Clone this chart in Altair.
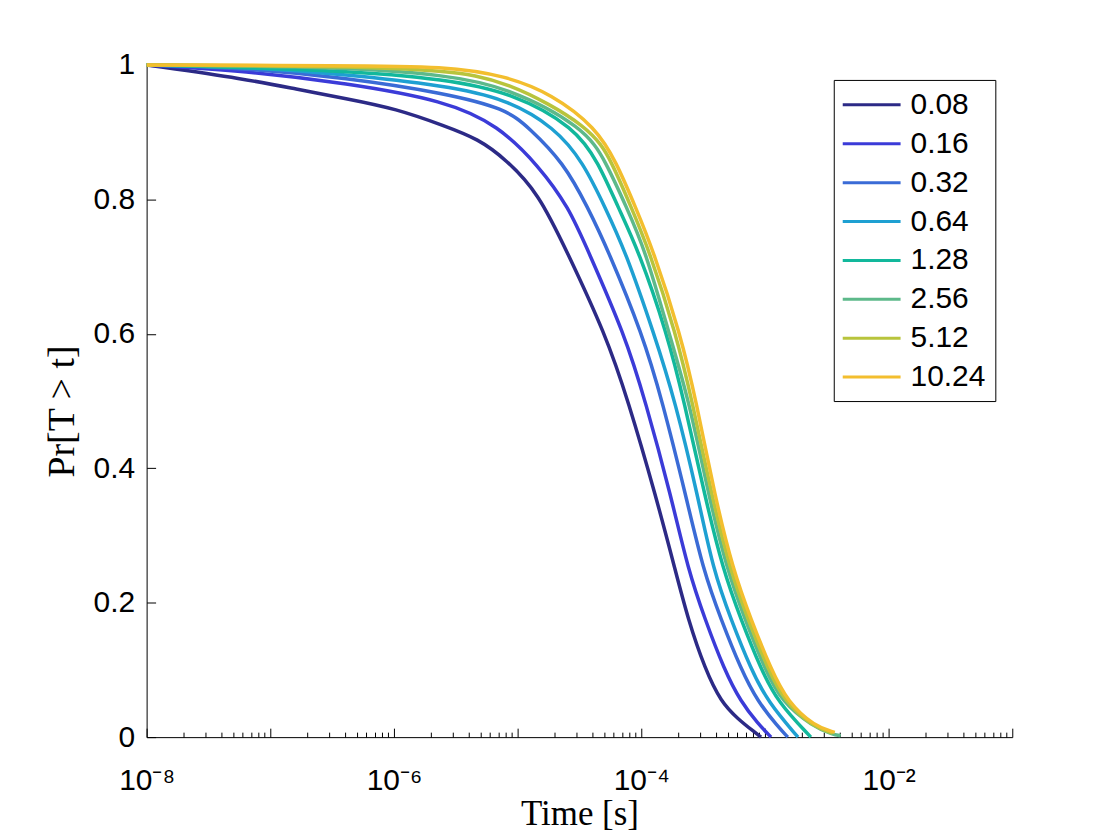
import altair as alt
import pandas as pd

SERIES = ["0.08", "0.16", "0.32", "0.64", "1.28", "2.56", "5.12", "10.24"]
COLORS = ["#2c2a86", "#3b3bd8", "#3a6bd6", "#1ea0d2", "#12b89c", "#5db98a", "#b8c43c", "#f3be2e"]

# survival curves: time [s] and Pr[T>t]
T_008 = [1.0e-8, 6.4e-8, 1.62e-7, 4.1e-7, 1.04e-6, 2.6e-6, 4.8e-6, 8.0e-6, 1.48e-5, 2.48e-5,
         5.1e-5, 7.85e-5, 1.32e-4, 1.88e-4, 2.39e-4, 3.28e-4, 4.42e-4, 6.05e-4, 8.3e-4, 9.3e-4]
P_008 = [1.0, 0.979, 0.964, 0.95, 0.935, 0.909, 0.89, 0.86, 0.809, 0.724,
         0.601, 0.5, 0.357, 0.249, 0.175, 0.101, 0.052, 0.027, 0.007, 0.0]

T_016 = [1.0e-8, 6.4e-8, 4.1e-7, 2.6e-6, 7.0e-6, 1.48e-5, 2.6e-5, 3.7e-5, 7.3e-5, 1.08e-4,
         1.75e-4, 2.39e-4, 3.28e-4, 4.67e-4, 6.4e-4, 8.8e-4, 1.12e-3]
P_016 = [1.0, 0.991, 0.973, 0.947, 0.91, 0.85, 0.788, 0.724, 0.6, 0.5,
         0.357, 0.249, 0.175, 0.101, 0.052, 0.02, 0.0]

T_032 = [1.0e-8, 6.4e-8, 4.1e-7, 2.6e-6, 8.0e-6, 1.23e-5, 2.35e-5, 3.7e-5, 5.4e-5, 1.02e-4,
         1.48e-4, 2.31e-4, 3.16e-4, 4.42e-4, 6.4e-4, 8.8e-4, 1.27e-3, 1.53e-3]
P_032 = [1.0, 0.995, 0.981, 0.958, 0.935, 0.907, 0.855, 0.788, 0.724, 0.6,
         0.5, 0.357, 0.249, 0.175, 0.101, 0.052, 0.016, 0.0]

T_064 = [1.0e-8, 6.4e-8, 4.1e-7, 2.6e-6, 8.0e-6, 2.0e-5, 3.4e-5, 5.1e-5, 7.4e-5, 1.27e-4,
         1.88e-4, 2.88e-4, 3.81e-4, 5.32e-4, 7.71e-4, 1.06e-3, 1.85e-3]
P_064 = [1.0, 0.997, 0.986, 0.969, 0.95, 0.907, 0.855, 0.788, 0.724, 0.6,
         0.5, 0.357, 0.249, 0.175, 0.101, 0.052, 0.0]

T_128 = [1.0e-8, 4.1e-7, 2.6e-6, 9.3e-6, 2.9e-5, 4.5e-5, 6.5e-5, 9.5e-5, 1.62e-4, 2.22e-4,
         3.28e-4, 4.58e-4, 6.4e-4, 9.3e-4, 1.27e-3, 2.35e-3]
P_128 = [1.0, 0.992, 0.979, 0.958, 0.907, 0.855, 0.788, 0.724, 0.6, 0.5,
         0.357, 0.249, 0.175, 0.101, 0.052, 0.0]

T_256 = [1.0e-8, 4.1e-7, 2.6e-6, 8.0e-6, 3.5e-5, 5.2e-5, 7.6e-5, 1.08e-4, 1.68e-4, 2.44e-4,
         3.53e-4, 4.94e-4, 6.9e-4, 1.0e-3, 1.37e-3, 2.44e-3, 3.53e-3, 4.1e-3]
P_256 = [1.0, 0.997, 0.985, 0.968, 0.907, 0.855, 0.788, 0.724, 0.6, 0.5,
         0.357, 0.249, 0.175, 0.101, 0.052, 0.016, 0.004, 0.002]

T_512 = [1.0e-8, 4.1e-7, 2.6e-6, 8.0e-6, 4.0e-5, 5.8e-5, 8.3e-5, 1.16e-4, 1.91e-4, 2.58e-4,
         3.74e-4, 5.22e-4, 7.3e-4, 1.06e-3, 1.45e-3, 2.44e-3, 3.53e-3]
P_512 = [1.0, 0.998, 0.992, 0.978, 0.907, 0.855, 0.788, 0.724, 0.6, 0.5,
         0.357, 0.249, 0.175, 0.101, 0.052, 0.016, 0.006]

T_1024 = [1.0e-8, 4.1e-7, 2.6e-6, 8.0e-6, 1.88e-5, 4.3e-5, 6.3e-5, 9.0e-5, 1.25e-4, 2.07e-4,
          2.78e-4, 3.95e-4, 5.52e-4, 7.71e-4, 1.12e-3, 1.53e-3, 2.53e-3, 3.67e-3]
P_1024 = [1.0, 0.999, 0.998, 0.984, 0.957, 0.907, 0.855, 0.788, 0.724, 0.6,
          0.5, 0.357, 0.249, 0.175, 0.101, 0.052, 0.016, 0.007]

CURVES = [(T_008, P_008), (T_016, P_016), (T_032, P_032), (T_064, P_064),
          (T_128, P_128), (T_256, P_256), (T_512, P_512), (T_1024, P_1024)]

Y_TICKS = [0, 0.2, 0.4, 0.6, 0.8, 1]
X_LABEL_TICKS = [1e-8, 1e-6, 1e-4, 1e-2]
X_ALL_TICKS = [k * 10.0 ** e for e in range(-8, -1) for k in range(1, 10)] + [1e-1]

rows = []
for order, (name, (ts, ps)) in enumerate(zip(SERIES, CURVES)):
    for t, p in zip(ts, ps):
        rows.append({"t": t, "p": p, "D": name, "o": order})
df = pd.DataFrame(rows)

xscale = alt.Scale(type="log", domain=[1e-8, 1e-1], nice=False)
yscale = alt.Scale(domain=[0, 1], nice=False, zero=False)

label_expr = ("'10' + (datum.value < 1e-7 ? '⁻⁸' : datum.value < 1e-5 ? '⁻⁶' : "
              "datum.value < 1e-3 ? '⁻⁴' : '⁻²')")

x_main = alt.Axis(values=X_LABEL_TICKS, labelExpr=label_expr, ticks=False, tickSize=0,
                  grid=False, domainColor="black", domainWidth=1,
                  labelFont="Liberation Sans", labelFontSize=30, labelColor="black",
                  labelPadding=29, labelFlush=False, labelOverlap=False,
                  title="Time [s]", titleFont="Liberation Serif", titleFontSize=35,
                  titleFontWeight="normal", titleColor="black", titlePadding=1)
y_main = alt.Axis(values=Y_TICKS, format="~g", ticks=False, tickSize=0, grid=False,
                  domainColor="black", domainWidth=1,
                  labelFont="Liberation Sans", labelFontSize=30, labelColor="black",
                  labelPadding=12, labelFlush=False, labelOverlap=False,
                  title="Pr[T > t]", titleFont="Liberation Serif", titleFontSize=38,
                  titleFontWeight="normal", titleColor="black", titlePadding=12,
                  titleY=347)

legend = alt.Legend(orient="none", legendX=689, legendY=15, title=None,
                    symbolType="M-2,0L2,0", symbolSize=841, symbolStrokeWidth=3,
                    symbolOffset=13, labelOffset=23, rowPadding=8, padding=9,
                    labelFont="Liberation Sans", labelFontSize=30, labelColor="black",
                    strokeColor="black", fillColor="white", labelLimit=200)

lines = alt.Chart(df).mark_line(strokeWidth=3.5, interpolate="basis").encode(
    x=alt.X("t:Q", scale=xscale, axis=x_main),
    y=alt.Y("p:Q", scale=yscale, axis=y_main),
    color=alt.Color("D:N", scale=alt.Scale(domain=SERIES, range=COLORS), legend=legend),
    order=alt.Order("o:Q"),
    detail="D:N",
)

x_ticks = alt.Axis(orient="top", offset=-674, values=X_ALL_TICKS, labels=False, domain=False,
                   grid=False, title=None, tickColor="black", tickWidth=1,
                   tickSize={"condition": {"test": "abs(log(datum.value)/LN10 - round(log(datum.value)/LN10)) < 0.01",
                                           "value": 9}, "value": 5})
y_ticks = alt.Axis(orient="right", offset=-868, values=Y_TICKS, labels=False, domain=False,
                   grid=False, title=None, tickColor="black", tickWidth=1, tickSize=9)

tick_layer = alt.Chart(df).mark_point(opacity=0).encode(
    x=alt.X("t:Q", scale=xscale, axis=x_ticks),
    y=alt.Y("p:Q", scale=yscale, axis=y_ticks),
)

chart = alt.layer(lines, tick_layer).resolve_axis(x="independent", y="independent").properties(
    width=868, height=674,
    autosize=alt.AutoSizeParams(type="none"),
    padding={"left": 139, "top": 56, "right": 100, "bottom": 96},
).configure_view(stroke=None)

chart.save("out.html", embed_options={"renderer": "svg", "actions": False})
